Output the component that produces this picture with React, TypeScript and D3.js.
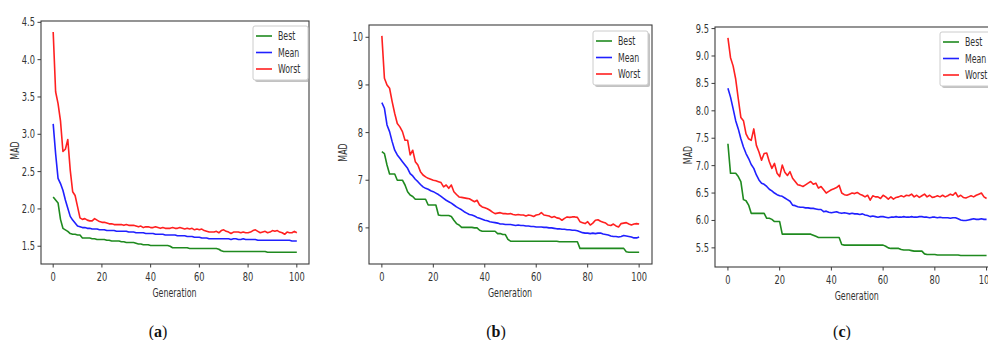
import React from 'react';
import * as d3 from 'd3';

const W = 988;
const H = 340;

// generation index on the x axis
const generations = d3.range(0, 101);
const xTicks = [0, 20, 40, 60, 80, 100];
const seriesNames = ['Best', 'Mean', 'Worst'];
const seriesColors = ['#1f8a1f', '#2020ff', '#ff2020'];

// panel (a)
const bestA = [
  2.16, 2.12, 2.08, 1.86, 1.74, 1.72, 1.70, 1.67, 1.66, 1.66,
  1.65, 1.65, 1.61, 1.61, 1.61, 1.61, 1.60, 1.60, 1.59, 1.59,
  1.59, 1.59, 1.58, 1.58, 1.57, 1.57, 1.57, 1.57, 1.56, 1.56,
  1.55, 1.55, 1.55, 1.55, 1.54, 1.53, 1.53, 1.52, 1.52, 1.52,
  1.51, 1.51, 1.51, 1.51, 1.51, 1.51, 1.51, 1.51, 1.50, 1.48,
  1.48, 1.48, 1.48, 1.48, 1.48, 1.48, 1.47, 1.47, 1.47, 1.47,
  1.47, 1.47, 1.47, 1.47, 1.47, 1.47, 1.47, 1.47, 1.46, 1.44,
  1.43, 1.43, 1.43, 1.43, 1.43, 1.43, 1.43, 1.43, 1.43, 1.43,
  1.43, 1.43, 1.43, 1.43, 1.43, 1.43, 1.43, 1.43, 1.42, 1.42,
  1.42, 1.42, 1.42, 1.42, 1.42, 1.42, 1.42, 1.42, 1.42, 1.42,
  1.42,
];
const meanA = [
  3.14, 2.74, 2.41, 2.34, 2.25, 2.12, 2.01, 1.90, 1.85, 1.81,
  1.77, 1.76, 1.75, 1.75, 1.74, 1.74, 1.73, 1.73, 1.73, 1.72,
  1.72, 1.72, 1.71, 1.71, 1.71, 1.71, 1.70, 1.70, 1.70, 1.70,
  1.70, 1.69, 1.69, 1.69, 1.68, 1.68, 1.68, 1.68, 1.67, 1.67,
  1.67, 1.67, 1.66, 1.66, 1.66, 1.66, 1.65, 1.65, 1.65, 1.65,
  1.65, 1.64, 1.64, 1.64, 1.64, 1.63, 1.63, 1.63, 1.62, 1.62,
  1.62, 1.61, 1.61, 1.61, 1.60, 1.60, 1.60, 1.60, 1.60, 1.60,
  1.60, 1.60, 1.60, 1.59, 1.60, 1.60, 1.59, 1.59, 1.60, 1.59,
  1.59, 1.59, 1.59, 1.59, 1.58, 1.58, 1.58, 1.58, 1.58, 1.58,
  1.58, 1.58, 1.58, 1.58, 1.58, 1.58, 1.58, 1.58, 1.57, 1.57,
  1.57,
];
const worstA = [
  4.37, 3.57, 3.41, 3.18, 2.77, 2.80, 2.93, 2.52, 2.23, 2.18,
  2.03, 1.88, 1.86, 1.87, 1.85, 1.84, 1.84, 1.87, 1.85, 1.83,
  1.82, 1.82, 1.81, 1.80, 1.80, 1.79, 1.79, 1.79, 1.79, 1.78,
  1.79, 1.78, 1.78, 1.78, 1.77, 1.76, 1.77, 1.75, 1.76, 1.76,
  1.75, 1.75, 1.76, 1.75, 1.74, 1.75, 1.74, 1.74, 1.74, 1.75,
  1.74, 1.74, 1.75, 1.74, 1.73, 1.74, 1.73, 1.74, 1.72, 1.73,
  1.72, 1.73, 1.71, 1.70, 1.69, 1.69, 1.69, 1.70, 1.68, 1.71,
  1.72, 1.70, 1.69, 1.67, 1.69, 1.69, 1.69, 1.68, 1.69, 1.68,
  1.68, 1.69, 1.71, 1.72, 1.70, 1.68, 1.69, 1.70, 1.68, 1.69,
  1.71, 1.70, 1.71, 1.69, 1.68, 1.66, 1.69, 1.68, 1.68, 1.70,
  1.68,
];
const yTicksA = [1.5, 2.0, 2.5, 3.0, 3.5, 4.0, 4.5];

// panel (b)
const bestB = [
  7.60, 7.56, 7.32, 7.13, 7.13, 7.13, 7.00, 7.00, 7.00, 6.90,
  6.76, 6.69, 6.66, 6.60, 6.60, 6.60, 6.60, 6.60, 6.48, 6.48,
  6.48, 6.48, 6.27, 6.26, 6.26, 6.26, 6.26, 6.24, 6.16, 6.09,
  6.06, 6.01, 6.01, 6.01, 6.01, 6.01, 6.00, 6.00, 5.95, 5.93,
  5.93, 5.93, 5.93, 5.93, 5.93, 5.88, 5.88, 5.86, 5.86, 5.76,
  5.72, 5.72, 5.72, 5.72, 5.72, 5.72, 5.72, 5.72, 5.72, 5.72,
  5.72, 5.72, 5.72, 5.72, 5.72, 5.72, 5.72, 5.72, 5.72, 5.71,
  5.71, 5.71, 5.71, 5.71, 5.71, 5.71, 5.71, 5.57, 5.57, 5.57,
  5.57, 5.57, 5.57, 5.57, 5.57, 5.57, 5.57, 5.57, 5.57, 5.57,
  5.57, 5.57, 5.57, 5.57, 5.57, 5.50, 5.49, 5.49, 5.49, 5.49,
  5.49,
];
const meanB = [
  8.63, 8.51, 8.16, 8.02, 7.81, 7.63, 7.53, 7.46, 7.39, 7.32,
  7.25, 7.14, 7.09, 7.02, 6.97, 6.91, 6.86, 6.83, 6.81, 6.78,
  6.76, 6.73, 6.70, 6.66, 6.62, 6.58, 6.55, 6.52, 6.48, 6.44,
  6.41, 6.38, 6.34, 6.31, 6.28, 6.27, 6.25, 6.22, 6.20, 6.18,
  6.16, 6.15, 6.13, 6.12, 6.11, 6.10, 6.08, 6.08, 6.07, 6.07,
  6.07, 6.06, 6.05, 6.06, 6.05, 6.05, 6.04, 6.04, 6.03, 6.03,
  6.02, 6.02, 6.02, 6.01, 6.01, 6.00, 6.00, 5.99, 5.98, 5.98,
  5.97, 5.97, 5.96, 5.96, 5.95, 5.95, 5.94, 5.92, 5.90, 5.89,
  5.89, 5.88, 5.89, 5.88, 5.89, 5.89, 5.87, 5.86, 5.85, 5.83,
  5.82, 5.82, 5.81, 5.82, 5.84, 5.83, 5.82, 5.81, 5.79, 5.79,
  5.81,
];
const worstB = [
  10.03, 9.14, 9.00, 8.93, 8.65, 8.40, 8.19, 8.12, 8.02, 7.84,
  7.84, 7.53, 7.63, 7.39, 7.32, 7.18, 7.11, 7.07, 7.04, 7.02,
  7.00, 6.99, 6.97, 6.95, 6.86, 6.90, 6.83, 6.90, 6.76, 6.70,
  6.65, 6.64, 6.63, 6.62, 6.61, 6.58, 6.55, 6.58, 6.48, 6.44,
  6.42, 6.40, 6.37, 6.33, 6.30, 6.31, 6.32, 6.30, 6.30, 6.29,
  6.30, 6.28, 6.27, 6.28, 6.27, 6.27, 6.25, 6.27, 6.26, 6.24,
  6.27, 6.28, 6.32, 6.27, 6.26, 6.25, 6.22, 6.24, 6.21, 6.20,
  6.16, 6.20, 6.23, 6.22, 6.23, 6.23, 6.22, 6.13, 6.11, 6.09,
  6.13, 6.06, 6.10, 6.16, 6.17, 6.14, 6.12, 6.10, 6.06, 6.05,
  6.08, 6.04, 6.02, 6.09, 6.10, 6.11, 6.08, 6.06, 6.08, 6.09,
  6.08,
];
const yTicksB = [6, 7, 8, 9, 10];

// panel (c)
const bestC = [
  7.40, 6.86, 6.86, 6.86, 6.80, 6.71, 6.38, 6.36, 6.28, 6.13,
  6.13, 6.13, 6.13, 6.13, 6.13, 6.04, 6.04, 6.02, 5.98, 5.98,
  5.98, 5.75, 5.75, 5.75, 5.75, 5.75, 5.75, 5.75, 5.75, 5.75,
  5.75, 5.75, 5.75, 5.73, 5.71, 5.69, 5.69, 5.69, 5.69, 5.69,
  5.69, 5.69, 5.69, 5.69, 5.56, 5.55, 5.55, 5.55, 5.55, 5.55,
  5.55, 5.55, 5.55, 5.55, 5.55, 5.55, 5.55, 5.55, 5.55, 5.55,
  5.55, 5.53, 5.50, 5.49, 5.49, 5.49, 5.49, 5.47, 5.46, 5.46,
  5.46, 5.45, 5.44, 5.44, 5.44, 5.44, 5.39, 5.38, 5.38, 5.38,
  5.38, 5.37, 5.37, 5.37, 5.37, 5.37, 5.37, 5.37, 5.37, 5.37,
  5.36, 5.36, 5.36, 5.36, 5.36, 5.36, 5.36, 5.36, 5.36, 5.36,
  5.36,
];
const meanC = [
  8.41, 8.25, 8.04, 7.82, 7.67, 7.49, 7.34, 7.22, 7.13, 7.02,
  6.95, 6.83, 6.74, 6.68, 6.66, 6.62, 6.57, 6.54, 6.50, 6.47,
  6.45, 6.44, 6.41, 6.38, 6.35, 6.28, 6.27, 6.25, 6.24, 6.24,
  6.23, 6.23, 6.22, 6.22, 6.21, 6.20, 6.20, 6.16, 6.17, 6.15,
  6.14, 6.15, 6.16, 6.14, 6.13, 6.14, 6.13, 6.12, 6.13, 6.12,
  6.12, 6.11, 6.12, 6.10, 6.09, 6.07, 6.08, 6.07, 6.06, 6.07,
  6.07, 6.06, 6.05, 6.06, 6.06, 6.07, 6.06, 6.06, 6.07, 6.06,
  6.06, 6.07, 6.06, 6.06, 6.07, 6.07, 6.06, 6.06, 6.05, 6.06,
  6.06, 6.05, 6.06, 6.05, 6.05, 6.05, 6.04, 6.05, 6.05, 6.03,
  6.01, 6.00, 6.00, 6.01, 6.02, 6.03, 6.02, 6.02, 6.03, 6.02,
  6.02,
];
const worstC = [
  9.33, 8.97, 8.82, 8.58, 8.22, 7.88, 7.82, 7.58, 7.49, 7.46,
  7.67, 7.37, 7.25, 7.10, 7.22, 7.23, 7.07, 6.95, 7.04, 6.86,
  6.80, 7.01, 6.88, 6.82, 6.89, 6.77, 6.71, 6.65, 6.64, 6.62,
  6.65, 6.68, 6.71, 6.66, 6.68, 6.59, 6.62, 6.56, 6.50, 6.53,
  6.56, 6.58, 6.60, 6.64, 6.50, 6.47, 6.46, 6.48, 6.50, 6.49,
  6.51, 6.48, 6.46, 6.43, 6.46, 6.37, 6.45, 6.43, 6.43, 6.40,
  6.46, 6.43, 6.39, 6.43, 6.39, 6.42, 6.43, 6.45, 6.43, 6.46,
  6.45, 6.48, 6.43, 6.46, 6.42, 6.45, 6.48, 6.43, 6.46, 6.42,
  6.43, 6.45, 6.43, 6.46, 6.43, 6.45, 6.48, 6.46, 6.51, 6.43,
  6.46, 6.42, 6.41, 6.43, 6.45, 6.43, 6.46, 6.48, 6.50, 6.43,
  6.40,
];
const yTicksC = [5.5, 6.0, 6.5, 7.0, 7.5, 8.0, 8.5, 9.0, 9.5];

const panelLabels = ['a', 'b', 'c'];

// layout for each panel, in page pixels
const panels = [
  { series: [bestA, meanA, worstA], yTicks: yTicksA, fmt: '.1f', box: [41, 21, 309, 264], yDom: [1.262, 4.518], legend: [253, 26], madX: 15, capX: 158 },
  { series: [bestB, meanB, worstB], yTicks: yTicksB, fmt: 'd', box: [369, 25, 652, 264], yDom: [5.242, 10.258], legend: [593, 31], madX: 343, capX: 496 },
  { series: [bestC, meanC, worstC], yTicks: yTicksC, fmt: '.1f', box: [715, 27, 999.5, 267], yDom: [5.151, 9.529], legend: [940, 32], madX: 688, capX: 842 },
];

const FONT = 'DejaVu Sans, sans-serif';
const INK = '#333';

function SqText({ x, y, size, sx = 0.72, anchor = 'middle', rotate = 0, children }: any) {
  return (
    <text
      transform={`translate(${x},${y}) rotate(${rotate}) scale(${sx},1)`}
      fontSize={size}
      fontFamily={FONT}
      textAnchor={anchor}
      fill={INK}
    >
      {children}
    </text>
  );
}

function Panel({ p, label }: any) {
  const [x0, y0, x1, y1] = p.box;
  const xs = d3.scaleLinear().domain([-5, 105]).range([x0, x1]);
  const ys = d3.scaleLinear().domain(p.yDom).range([y1, y0]);
  const line = d3.line<number>().x((d, i) => xs(generations[i])).y((d) => ys(d));
  const fmt = d3.format(p.fmt);
  const [lx, ly] = p.legend;

  return (
    <g>
      {p.series.map((s: number[], i: number) => (
        <path key={i} d={line(s) || ''} fill="none" stroke={seriesColors[i]} strokeWidth={1.6} strokeLinejoin="round" />
      ))}
      <rect x={x0} y={y0} width={x1 - x0} height={y1 - y0} fill="none" stroke="#3c3c3c" strokeWidth={1.1} />

      {xTicks.map((t) => (
        <g key={t}>
          <line x1={xs(t)} x2={xs(t)} y1={y1} y2={y1 + 3.5} stroke="#3c3c3c" />
          <SqText x={xs(t)} y={y1 + 16.5} size={11.5}>{t}</SqText>
        </g>
      ))}
      {p.yTicks.map((t: number) => (
        <g key={t}>
          <line x1={x0 - 3.5} x2={x0} y1={ys(t)} y2={ys(t)} stroke="#3c3c3c" />
          <SqText x={x0 - 6} y={ys(t) + 4} size={11.5} anchor="end">{fmt(t)}</SqText>
        </g>
      ))}

      <SqText x={(x0 + Math.min(x1, 1000)) / 2 - 0.5} y={y1 + 32.5} size={12} sx={0.66}>Generation</SqText>
      <SqText x={p.madX + 4} y={(y0 + y1) / 2 + 8} size={12} sx={0.66} rotate={-90}>MAD</SqText>

      {/* legend with shadow */}
      <rect x={lx + 2} y={ly + 2} width={55} height={54} rx={2} fill="#999" opacity={0.6} />
      <rect x={lx} y={ly} width={55} height={54} rx={2} fill="#fff" stroke="#ccc" />
      {seriesNames.map((n, i) => (
        <g key={n}>
          <line x1={lx + 3} x2={lx + 19} y1={ly + 10 + i * 16.5} y2={ly + 10 + i * 16.5} stroke={seriesColors[i]} strokeWidth={1.6} />
          <SqText x={lx + 25} y={ly + 14 + i * 16.5} size={11.5} sx={0.68} anchor="start">{n}</SqText>
        </g>
      ))}

      <text x={p.capX} y={337} fontFamily="Liberation Serif, serif" fontSize={16} textAnchor="middle" fill="#111">
        (<tspan fontWeight="bold">{label}</tspan>)
      </text>
    </g>
  );
}

export default function App() {
  return (
    <svg width={W} height={H} style={{ position: 'absolute', left: 0, top: 0, background: '#fff' }}>
      <rect width={W} height={H} fill="#fff" />
      {panels.map((p, i) => (
        <Panel key={i} p={p} label={panelLabels[i]} />
      ))}
    </svg>
  );
}
